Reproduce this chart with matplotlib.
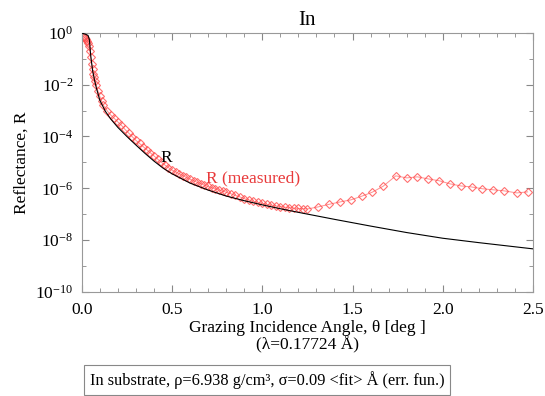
import matplotlib
matplotlib.use("Agg")
import matplotlib.pyplot as plt
import numpy as np
from matplotlib.ticker import FixedLocator, MultipleLocator, NullFormatter, FixedFormatter

plt.rcParams['font.family'] = ['Liberation Serif', 'DejaVu Serif']
plt.rcParams['mathtext.fontset'] = 'stix'

# Theory (fitted) reflectivity curve
theta_fit = [0.005, 0.02, 0.035, 0.042, 0.05, 0.06, 0.07, 0.08, 0.1, 0.13, 0.16, 0.2,
             0.25, 0.3, 0.35, 0.4, 0.45, 0.5, 0.6, 0.7, 0.8, 0.9, 1.0, 1.1, 1.2, 1.4,
             1.6, 1.8, 2.0, 2.2, 2.4, 2.5]
logR_fit = [-0.02, -0.05, -0.1, -0.25, -0.9, -1.45, -1.8, -2.1, -2.6, -3.02, -3.32, -3.65,
            -4.0, -4.33, -4.65, -4.95, -5.22, -5.44, -5.8, -6.07, -6.3, -6.48, -6.64, -6.79,
            -6.93, -7.2, -7.46, -7.71, -7.93, -8.1, -8.26, -8.34]

# Measured reflectivity
theta_meas = [0.005, 0.01, 0.015, 0.02, 0.025, 0.03, 0.035, 0.04, 0.045, 0.05, 0.055, 0.06,
              0.065, 0.07, 0.075, 0.08, 0.09, 0.10, 0.11, 0.12, 0.14, 0.16, 0.18, 0.20,
              0.22, 0.24, 0.26, 0.28, 0.30, 0.32, 0.34, 0.36, 0.38, 0.40, 0.42, 0.44,
              0.46, 0.48, 0.50, 0.52, 0.54, 0.56, 0.58, 0.60, 0.62, 0.64, 0.66, 0.68,
              0.70, 0.72, 0.74, 0.76, 0.78, 0.80,
              0.825, 0.85, 0.875, 0.90, 0.925, 0.95, 0.975, 1.00, 1.025, 1.05, 1.075,
              1.10, 1.125, 1.15, 1.175, 1.20, 1.225,
              1.25, 1.31, 1.37, 1.43, 1.49, 1.55, 1.61, 1.67, 1.74, 1.80, 1.86, 1.92,
              1.98, 2.04, 2.10, 2.16, 2.22, 2.28, 2.34, 2.41, 2.47]
logR_meas = [-0.12, -0.15, -0.17, -0.2, -0.25, -0.3, -0.38, -0.5, -0.7, -0.95, -1.2, -1.4,
             -1.57, -1.72, -1.86, -2.0, -2.25, -2.45, -2.63, -2.8, -3.0, -3.17, -3.3, -3.44,
             -3.57, -3.73, -3.87, -4.01, -4.15, -4.27, -4.39, -4.51, -4.63, -4.75, -4.87, -4.99,
             -5.1, -5.2, -5.3, -5.37, -5.44, -5.51, -5.58, -5.65, -5.71, -5.77, -5.82, -5.88,
             -5.93, -5.98, -6.02, -6.07, -6.11, -6.15,
             -6.21, -6.27, -6.33, -6.4, -6.45, -6.5, -6.54, -6.58, -6.62, -6.65, -6.68,
             -6.71, -6.73, -6.75, -6.77, -6.78, -6.79,
             -6.80, -6.72, -6.62, -6.53, -6.45, -6.31, -6.15, -5.92, -5.52, -5.6, -5.56, -5.64,
             -5.71, -5.83, -5.91, -5.95, -6.02, -6.06, -6.1, -6.18, -6.14]

x_ticks = [0.0, 0.5, 1.0, 1.5, 2.0, 2.5]
x_ticklabels = ['0.0', '0.5', '1.0', '1.5', '2.0', '2.5']

R_fit = [10 ** v for v in logR_fit]
R_meas = [10 ** v for v in logR_meas]

fig = plt.figure(figsize=(5.45, 3.96), dpi=100)
ax = fig.add_axes([0.150, 0.263, 0.828, 0.654])

ax.plot(theta_meas, R_meas, color=(1.0, 0.45, 0.45), lw=0.7, alpha=0.8,
        marker='D', markersize=3.6, markerfacecolor='none',
        markeredgecolor=(1.0, 0.3, 0.3, 0.55), markeredgewidth=0.8, zorder=2)
ax.plot(theta_fit, R_fit, color='black', lw=0.8, zorder=3)

ax.set_yscale('log')
ax.set_xlim(0, 2.5)
ax.set_ylim(1e-10, 1)

ax.yaxis.set_major_locator(FixedLocator([10.0 ** k for k in range(-10, 1, 2)]))
ax.yaxis.set_minor_locator(FixedLocator([10.0 ** k for k in range(-9, 0, 2)]))
ax.yaxis.set_minor_formatter(NullFormatter())
ax.xaxis.set_major_locator(FixedLocator(x_ticks))
ax.xaxis.set_major_formatter(FixedFormatter(x_ticklabels))
ax.xaxis.set_minor_locator(MultipleLocator(0.1))

ax.tick_params(which='both', direction='in', top=True, right=True, labelsize=12.5,
               color='#888888')
ax.tick_params(which='major', length=5)
ax.tick_params(which='minor', length=3)
ax.tick_params(axis='x', which='major', pad=7)
ax.tick_params(axis='y', which='major', pad=6)
for s in ax.spines.values():
    s.set_color('#999999')
    s.set_linewidth(0.8)

ax.set_title('In', fontsize=15, pad=6)
ax.set_ylabel('Reflectance, R', fontsize=12.5)
ax.set_xlabel('Grazing Incidence Angle, θ [deg ]\n(λ=0.17724 Å)', fontsize=12.5,
              linespacing=1.0, labelpad=2)

ax.text(0.47, 10 ** -4.83, 'R', color='black', fontsize=12.5, ha='center', va='center')
ax.text(0.69, 10 ** -5.6, 'R (measured)', color='#e8393a', fontsize=12.5,
        ha='left', va='center')

fig.text(0.165, 0.04, 'In substrate, ρ=6.938 g/cm³, σ=0.09 <fit> Å (err. fun.)',
         fontsize=11.8, ha='left', va='center',
         bbox=dict(boxstyle='square,pad=0.35', fc='white', ec='#888888', lw=0.8))

fig.savefig('out.png', dpi=100)
